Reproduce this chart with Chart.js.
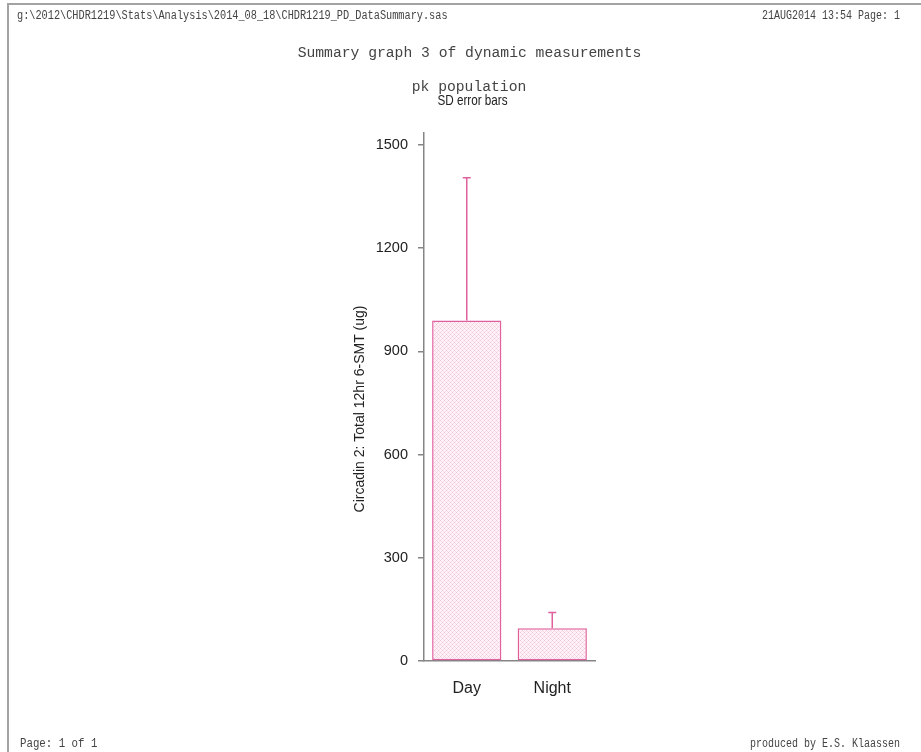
<!DOCTYPE html>
<html>
<head>
<meta charset="utf-8">
<script src="https://cdn.jsdelivr.net/npm/chart.js@4/dist/chart.umd.min.js"></script>
<style>
  html, body { margin: 0; padding: 0; background: #fff; }
  #page { display: block; }
</style>
</head>
<body>
<canvas id="page" width="921" height="752"></canvas>
<script>
// summary data: mean and SD per period
const periods = ['Day', 'Night'];
const means = [990, 95];
const sds = [415, 46];
const yTicks = [0, 300, 600, 900, 1200, 1500];

const headerLeft = 'g:\\2012\\CHDR1219\\Stats\\Analysis\\2014_08_18\\CHDR1219_PD_DataSummary.sas';
const headerRight = '21AUG2014 13:54 Page: 1';
const footerLeft = 'Page: 1 of 1';
const footerRight = 'produced by E.S. Klaassen';
const titleLines = ['Summary graph 3 of dynamic measurements', 'pk population'];
const subTitle = 'SD error bars';
const yTitle = 'Circadin 2: Total 12hr 6-SMT (ug)';

const pink = '#e0609e';
const axisGrey = '#858585';
const mono = '"Liberation Mono", "Courier New", monospace';
const sans = '"Liberation Sans", Arial, sans-serif';

// light pink cross-hatch fill for the bars
function hatch() {
    const c = document.createElement('canvas');
    c.width = 4; c.height = 4;
    const g = c.getContext('2d');
    g.fillStyle = '#fff3f8';
    g.fillRect(0, 0, 4, 4);
    g.fillStyle = '#f4c4da';
    g.fillRect(0, 0, 1, 1);
    g.fillRect(2, 2, 1, 1);
    g.fillStyle = '#f9dbe8';
    g.fillRect(1, 1, 1, 1);
    g.fillRect(3, 3, 1, 1);
    g.fillRect(3, 1, 1, 1);
    g.fillRect(1, 3, 1, 1);
    return g.createPattern(c, 'repeat');
}

function text(ctx, str, x, y, font, color, align, sx) {
    ctx.save();
    ctx.font = font;
    ctx.fillStyle = color;
    ctx.textAlign = align;
    ctx.textBaseline = 'alphabetic';
    ctx.translate(x, y);
    ctx.scale(sx || 1, 1);
    ctx.fillText(str, 0, 0);
    ctx.restore();
}

// page frame, SAS header/footer and titles
const pageText = {
    id: 'pageText',
    beforeDraw(chart) {
        const ctx = chart.ctx;
        ctx.save();
        ctx.fillStyle = '#fff';
        ctx.fillRect(0, 0, chart.width, chart.height);
        ctx.strokeStyle = '#a3a3a3';
        ctx.lineWidth = 2;
        ctx.beginPath();
        ctx.moveTo(921, 4);
        ctx.lineTo(8, 4);
        ctx.lineTo(8, 752);
        ctx.stroke();
        ctx.restore();

        text(ctx, headerLeft, 17, 19, '12.5px ' + mono, '#444', 'left', 0.82);
        text(ctx, headerRight, 900, 19, '12.5px ' + mono, '#444', 'right', 0.8);
        text(ctx, footerLeft, 20, 747, '12.5px ' + mono, '#444', 'left', 0.86);
        text(ctx, footerRight, 900, 747, '12.5px ' + mono, '#444', 'right', 0.8);
        text(ctx, titleLines[0], 469.5, 57, '14.7px ' + mono, '#444', 'center');
        text(ctx, titleLines[1], 469, 91, '14.7px ' + mono, '#444', 'center');
        text(ctx, subTitle, 472.5, 105, '15px ' + sans, '#222', 'center', 0.78);

        ctx.save();
        ctx.translate(364, 409);
        ctx.rotate(-Math.PI / 2);
        ctx.font = '14px ' + sans;
        ctx.fillStyle = '#222';
        ctx.textAlign = 'center';
        ctx.textBaseline = 'alphabetic';
        ctx.fillText(yTitle, 0, 0);
        ctx.restore();
    }
};

// SD whiskers on top of each bar
const errorBars = {
    id: 'errorBars',
    afterDatasetsDraw(chart) {
        const ctx = chart.ctx;
        const y = chart.scales.y;
        const meta = chart.getDatasetMeta(0);
        ctx.save();
        ctx.strokeStyle = pink;
        ctx.lineWidth = 1.5;
        meta.data.forEach((bar, i) => {
            const top = y.getPixelForValue(means[i] + sds[i]);
            ctx.beginPath();
            ctx.moveTo(bar.x, bar.y);
            ctx.lineTo(bar.x, top);
            ctx.moveTo(bar.x - 4, top);
            ctx.lineTo(bar.x + 4, top);
            ctx.stroke();
        });
        ctx.restore();
    }
};

new Chart(document.getElementById('page'), {
    type: 'bar',
    data: {
        labels: periods,
        datasets: [{
            data: means,
            backgroundColor: hatch(),
            borderColor: pink,
            borderWidth: 1.5,
            borderSkipped: false,
            barPercentage: 0.81,
            categoryPercentage: 1
        }]
    },
    options: {
        responsive: false,
        animation: false,
        devicePixelRatio: 1,
        layout: { padding: { top: 133, right: 326, bottom: 0, left: 0 } },
        plugins: {
            legend: { display: false },
            tooltip: { enabled: false }
        },
        scales: {
            x: {
                afterFit: s => { s.height = 91; },
                grid: { display: false, drawTicks: false },
                border: { display: true, color: axisGrey, width: 1.5 },
                ticks: { padding: 18, color: '#222', font: { family: sans, size: 16 } }
            },
            y: {
                min: 0,
                max: 1535,
                afterFit: s => { s.width = 424; },
                afterBuildTicks: s => { s.ticks = yTicks.map(v => ({ value: v })); },
                grid: { drawOnChartArea: false, drawTicks: true, tickLength: 6, color: axisGrey, lineWidth: 1.5 },
                border: { display: true, color: axisGrey, width: 1.5 },
                ticks: {
                    padding: 10,
                    color: '#222',
                    font: { family: sans, size: 14.5 },
                    callback: v => String(v)
                }
            }
        }
    },
    plugins: [pageText, errorBars]
});
</script>
</body>
</html>
